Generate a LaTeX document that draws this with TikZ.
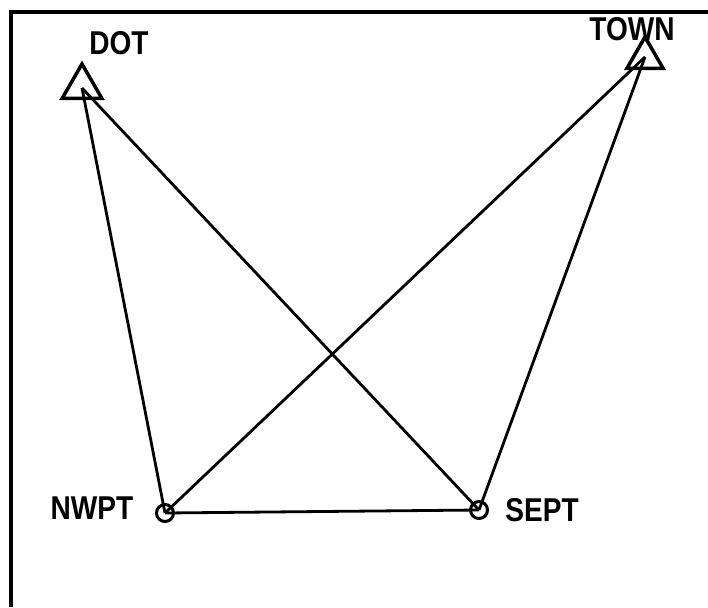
\documentclass[tikz,border=0pt]{standalone}
\usepackage{fontspec}
\setmainfont{Liberation Sans}
\newfontfamily\plotfont{Liberation Sans}[FakeStretch=0.85]
\usetikzlibrary{shapes.geometric}
\begin{document}
\begin{tikzpicture}[x=1pt,y=-1pt,
  station/.style={regular polygon,regular polygon sides=3,draw,line width=3.5pt,inner sep=0pt,minimum size=#1},
  ptmark/.style={circle,draw,line width=3pt,inner sep=0pt,minimum size=17pt},
  lbl/.style={font=\plotfont\fontsize{33}{33}\selectfont\bfseries,inner sep=0pt},
  leg/.style={line width=2.8pt},
  frame/.style={line width=3.5pt}]
\useasboundingbox (0,0) rectangle (708,607);
\fill[white] (0,0) rectangle (708,607);
\coordinate (fbl) at (11,607);
\coordinate (ftl) at (11,12);
\coordinate (ftr) at (708,12);
\draw[frame] (fbl) -- (ftl) -- (ftr);
\coordinate (dot) at (82,88);
\coordinate (town) at (645,57);
\coordinate (nwpt) at (165,513);
\coordinate (sept) at (479,510);
\draw[leg] (dot) -- (nwpt);
\draw[leg] (dot) -- (sept);
\draw[leg] (town) -- (nwpt);
\draw[leg] (town) -- (sept);
\draw[leg] (nwpt) -- (sept);
\node[station=46pt] (dottri) at (82,87) {};
\node[station=42pt] (towntri) at (645,58) {};
\node[ptmark] (nwc) at (nwpt) {};
\node[ptmark] (sec) at (sept) {};
\node[lbl] (dotl) at (119,43) {DOT};
\node[lbl] (townl) at (632,29) {TOWN};
\node[lbl] (nwl) at (92,508) {NWPT};
\node[lbl] (sel) at (542,510) {SEPT};
\end{tikzpicture}
\end{document}
